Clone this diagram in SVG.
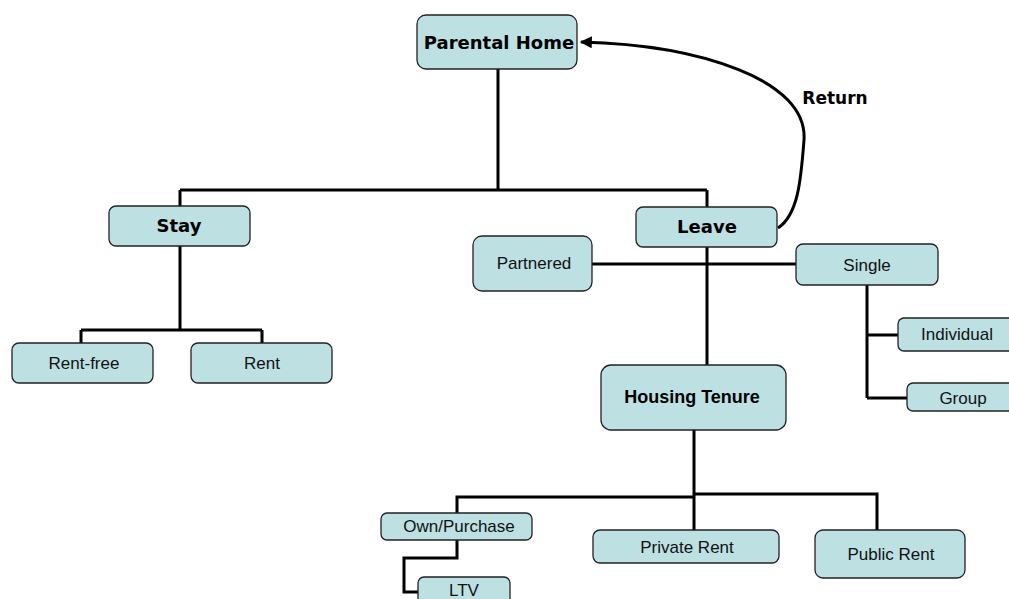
<svg xmlns="http://www.w3.org/2000/svg" width="1009" height="599" viewBox="0 0 1009 599">
<style>
.box{fill:#bde0e3;stroke:#222;stroke-width:1.3}
.b{font-family:"DejaVu Sans",sans-serif;font-weight:bold;font-size:18px;fill:#000;text-anchor:middle}
.hb{font-family:"Liberation Sans",Arial,sans-serif;font-weight:bold;font-size:18px;fill:#000;text-anchor:middle}
.r{font-family:"Liberation Sans",Arial,sans-serif;font-size:17px;fill:#111;text-anchor:middle}
.c{fill:none;stroke:#000;stroke-width:3}
</style>
<defs>
<marker id="ah" viewBox="0 0 10 10" refX="9" refY="5" markerWidth="4.5" markerHeight="4" orient="auto-start-reverse" markerUnits="strokeWidth">
<path d="M0,0 L10,5 L0,10 z" fill="#000"/>
</marker>
</defs>
<rect width="1009" height="599" fill="#fff"/>
<g id="connectors">
<path class="c" d="M498,69 V190 M180,190 H707 M180,190 V206 M707,190 V207"/>
<path class="c" d="M180,246 V330 M81,330 H262 M81,330 V343 M262,330 V343"/>
<path class="c" d="M707,247 V365"/>
<path class="c" d="M592,264 H796"/>
<path class="c" d="M867,285 V398 M867,335 H898 M867,398 H907"/>
<path class="c" d="M694,430 V530 M694,497 H457 V513 M694,494 H877 V530"/>
<path class="c" d="M457,540 V558 H404 V592 H418"/>
<path class="c" d="M778,228 C798,215 801,180 804,140 C808,80 700,45 581,42" marker-end="url(#ah)"/>
<text class="b" x="835" y="104" style="font-size:17px">Return</text>
</g>
<g id="parental-home"><rect class="box" x="417" y="15" width="160" height="54" rx="9"/><text class="b" x="499" y="49">Parental Home</text></g>
<g id="stay"><rect class="box" x="109" y="206" width="141" height="40" rx="7"/><text class="b" x="179" y="232">Stay</text></g>
<g id="leave"><rect class="box" x="636" y="207" width="141" height="40" rx="7"/><text class="b" x="707" y="233">Leave</text></g>
<g id="partnered"><rect class="box" x="473" y="236" width="119" height="55" rx="9"/><text class="r" x="534" y="269">Partnered</text></g>
<g id="single"><rect class="box" x="796" y="244" width="142" height="41" rx="7"/><text class="r" x="867" y="271">Single</text></g>
<g id="individual"><rect class="box" x="898" y="318" width="120" height="33" rx="6"/><text class="r" x="957" y="340">Individual</text></g>
<g id="group"><rect class="box" x="907" y="383" width="111" height="28" rx="6"/><text class="r" x="963" y="404">Group</text></g>
<g id="rent-free"><rect class="box" x="12" y="343" width="141" height="40" rx="7"/><text class="r" x="84" y="369">Rent-free</text></g>
<g id="rent"><rect class="box" x="191" y="343" width="141" height="40" rx="7"/><text class="r" x="262" y="369">Rent</text></g>
<g id="housing-tenure"><rect class="box" x="601" y="365" width="185" height="65" rx="10"/><text class="hb" x="692" y="403">Housing Tenure</text></g>
<g id="own-purchase"><rect class="box" x="381" y="513" width="151" height="27" rx="6"/><text class="r" x="459" y="532">Own/Purchase</text></g>
<g id="private-rent"><rect class="box" x="593" y="530" width="186" height="33" rx="7"/><text class="r" x="687" y="553">Private Rent</text></g>
<g id="public-rent"><rect class="box" x="815" y="530" width="150" height="48" rx="8"/><text class="r" x="891" y="560">Public Rent</text></g>
<g id="ltv"><rect class="box" x="418" y="577" width="92" height="30" rx="6"/><text class="r" x="464" y="596">LTV</text></g>
</svg>
